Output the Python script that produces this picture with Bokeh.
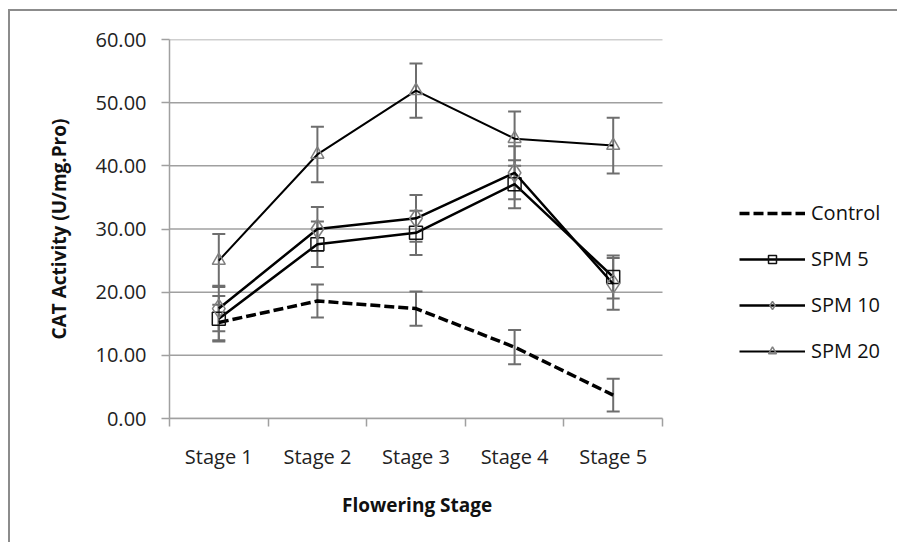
from bokeh.plotting import figure
from bokeh.models import (ColumnDataSource, Whisker, TeeHead, FixedTicker, Legend,
                          LegendItem, Range1d, Title)
from bokeh.embed import file_html
from bokeh.resources import INLINE

stages = ["Stage 1", "Stage 2", "Stage 3", "Stage 4", "Stage 5"]
control = [15.2, 18.6, 17.4, 11.3, 3.7]
control_err = [2.8, 2.6, 2.7, 2.7, 2.6]
spm5 = [15.8, 27.6, 29.4, 37.1, 22.4]
spm5_err = [3.6, 3.6, 3.5, 3.8, 3.4]
spm10 = [17.4, 30.0, 31.7, 38.9, 21.3]
spm10_err = [3.6, 3.5, 3.7, 4.2, 4.1]
spm20 = [25.0, 41.8, 51.9, 44.3, 43.2]
spm20_err = [4.2, 4.4, 4.3, 4.3, 4.4]
y_ticks = [0, 10, 20, 30, 40, 50, 60]

FONT = "Open Sans"
GRID = "#a0a0a0"
ERR = "#6e6e6e"

# layout (pixels)
W, H = 889, 533
LEFT, RIGHT, TOP, BOTTOM = 159, 10, 28, 126
AXIS_W = 493                      # pixel width of the category axis
FRAME_W = W - LEFT - RIGHT
n = len(stages)
x_end = n * FRAME_W / AXIS_W      # frame extends past the axis to hold the legend

xs = [i + 0.5 for i in range(n)]

p = figure(width=W, height=H, output_backend="svg", toolbar_location=None,
           x_range=Range1d(0, x_end), y_range=Range1d(0, 60),
           min_border_left=LEFT, min_border_right=RIGHT, min_border_top=TOP,
           min_border_bottom=BOTTOM)
p.outline_line_color = None
p.background_fill_color = "white"
p.border_fill_color = "white"
# shift visually (no layout margins) and draw the top/left chart-area border
p.styles = {"transform": "translate(10px, 11px)",
            "box-shadow": "-2px -2px 0px 0px #8c8c8c"}

p.xgrid.grid_line_color = None
p.ygrid.grid_line_color = None

# horizontal gridlines limited to the category span
p.segment(x0=[0] * len(y_ticks), x1=[n] * len(y_ticks), y0=y_ticks, y1=y_ticks,
          line_color=GRID, line_width=1.5, level="underlay")

# y axis
p.yaxis.ticker = FixedTicker(ticks=y_ticks)
p.yaxis.major_label_overrides = {t: f"{t:.2f}" for t in y_ticks}
p.yaxis.axis_line_color = GRID
p.yaxis.axis_line_width = 1.5
p.yaxis.major_tick_line_color = GRID
p.yaxis.major_tick_line_width = 1.5
p.yaxis.major_tick_out = 8
p.yaxis.major_tick_in = 0
p.yaxis.minor_tick_line_color = None
p.yaxis.major_label_text_font = FONT
p.yaxis.major_label_text_font_size = "20px"
p.yaxis.major_label_text_color = "#222222"
p.yaxis.major_label_standoff = 15
p.yaxis.axis_label = "CAT Activity (U/mg.Pro)"
p.yaxis.axis_label_text_font = FONT
p.yaxis.axis_label_text_font_size = "19px"
p.yaxis.axis_label_text_font_style = "bold"
p.yaxis.axis_label_text_color = "#111111"
p.yaxis.axis_label_standoff = 21

# x axis: labels at category centres, ticks at boundaries
p.xaxis.bounds = (0, n)
p.xaxis.ticker = FixedTicker(ticks=xs, minor_ticks=list(range(n + 1)))
p.xaxis.major_label_overrides = {x: s for x, s in zip(xs, stages)}
p.xaxis.axis_line_color = GRID
p.xaxis.axis_line_width = 1.5
p.xaxis.major_tick_line_color = None
p.xaxis.major_tick_out = 0
p.xaxis.major_tick_in = 0
p.xaxis.minor_tick_line_color = GRID
p.xaxis.minor_tick_line_width = 1.5
p.xaxis.minor_tick_out = 8
p.xaxis.minor_tick_in = 0
p.xaxis.major_label_text_font = FONT
p.xaxis.major_label_text_font_size = "20px"
p.xaxis.major_label_text_color = "#222222"
p.xaxis.major_label_standoff = 16

# x-axis title centred under the category span
XT_W = 148
p.add_layout(Title(text="Flowering Stage", align="left",
                   offset=AXIS_W / 2 - XT_W / 2, standoff=35,
                   text_font=FONT, text_font_size="19px", text_font_style="bold",
                   text_color="#111111"), "below")

series = [
    ("Control", control, control_err, dict(line_width=3.5, line_dash="10 4"), None),
    ("SPM 5", spm5, spm5_err, dict(line_width=2.5), ("square", 13, "#111111")),
    ("SPM 10", spm10, spm10_err, dict(line_width=2.5), ("diamond", 19, "#808080")),
    ("SPM 20", spm20, spm20_err, dict(line_width=2), ("triangle", 13, "#808080")),
]

items = []
for name, vals, errs, lstyle, mk in series:
    src = ColumnDataSource(dict(x=xs, y=vals,
                                lo=[v - e for v, e in zip(vals, errs)],
                                hi=[v + e for v, e in zip(vals, errs)]))
    w = Whisker(source=src, base="x", lower="lo", upper="hi", dimension="height",
                line_color=ERR, line_width=2,
                upper_head=TeeHead(size=13, line_color=ERR, line_width=2),
                lower_head=TeeHead(size=13, line_color=ERR, line_width=2))
    p.add_layout(w)
    rs = []
    r = p.line("x", "y", source=src, line_color="#000000", **lstyle)
    rs.append(r)
    if mk is not None:
        m = p.scatter("x", "y", source=src, marker=mk[0], size=mk[1],
                      fill_color=None, line_color=mk[2], line_width=1.5)
        rs.append(m)
    items.append(LegendItem(label=name, renderers=rs))

legend = Legend(items=items, location=(570, 54), orientation="vertical",
                glyph_width=66, glyph_height=20, label_height=20, spacing=19,
                label_standoff=6, padding=0, margin=0,
                border_line_color=None, background_fill_alpha=0,
                label_text_font=FONT, label_text_font_size="20px",
                label_text_color="#111111")
p.add_layout(legend, "center")

open("out.html", "w").write(file_html(p, INLINE))
